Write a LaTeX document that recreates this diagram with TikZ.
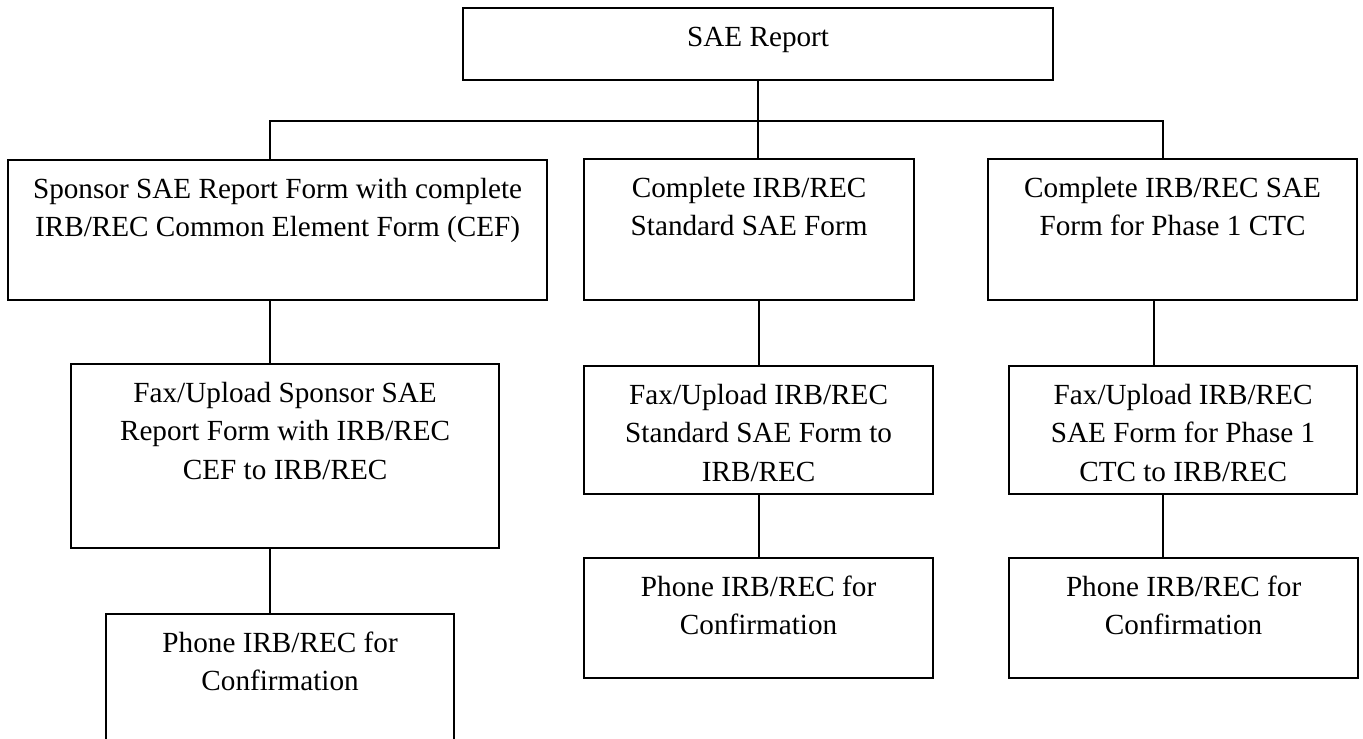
\documentclass[tikz,border=0pt]{standalone}
\usepackage{fontspec}
\setmainfont{Liberation Serif}
\newdimen\pxu
\pxu=0.5pt
\newcommand{\formtext}[3]{\parbox[b][#2\pxu][t]{#1\pxu}{\centering\rule{0pt}{19pt}#3\par}}
\tikzset{
  formbox/.style={draw,line width=1.1pt,inner sep=0pt,anchor=north west,
    font=\fontsize{14.6}{19.3}\selectfont},
  link/.style={line width=0.9pt}
}
\begin{document}
\begin{tikzpicture}[x=0.5pt,y=0.5pt]
\useasboundingbox (0,0) rectangle (1363,-738);
\clip (0,0) rectangle (1363,-738);
\node[formbox] (sae) at (462,-7) {\formtext{590}{72}{SAE Report}};
\node[formbox] (b1) at (7,-159) {\formtext{539}{140}{Sponsor SAE Report Form with complete\\IRB/REC Common Element Form (CEF)}};
\node[formbox] (b2) at (583,-158) {\formtext{330}{141}{Complete IRB/REC\\Standard SAE Form}};
\node[formbox] (b3) at (987,-158) {\formtext{369}{141}{Complete IRB/REC SAE\\Form for Phase 1 CTC}};
\node[formbox] (b4) at (70,-363) {\formtext{428}{184}{Fax/Upload Sponsor SAE\\Report Form with IRB/REC\\CEF to IRB/REC}};
\node[formbox] (b5) at (105,-613) {\formtext{348}{160}{Phone IRB/REC for\\Confirmation}};
\node[formbox] (b6) at (583,-365) {\formtext{349}{128}{Fax/Upload IRB/REC\\Standard SAE Form to\\IRB/REC}};
\node[formbox] (b7) at (583,-557) {\formtext{349}{120}{Phone IRB/REC for\\Confirmation}};
\node[formbox] (b8) at (1008,-365) {\formtext{348}{128}{Fax/Upload IRB/REC\\SAE Form for Phase 1\\CTC to IRB/REC}};
\node[formbox] (b9) at (1008,-557) {\formtext{349}{120}{Phone IRB/REC for\\Confirmation}};
\coordinate (col1) at (270,-121);
\coordinate (col3) at (1163,-121);
\draw[link] (sae.south) -- (sae.south |- b2.north);
\draw[link] (b1.north -| col1) -- (col1) -- (col3) -- (col3 |- b3.north);
\draw[link] (b1.south -| col1) -- (b4.north -| col1);
\draw[link] (b4.south -| col1) -- (b5.north -| col1);
\draw[link] (b2.south -| b6.north) -- (b6.north);
\draw[link] (b6.south) -- (b7.north);
\draw[link] ([xshift=-9.25pt]b3.south) -- ([xshift=-9.25pt]b3.south |- b8.north);
\draw[link] (b8.south -| col3) -- (b9.north -| col3);
\end{tikzpicture}
\end{document}
